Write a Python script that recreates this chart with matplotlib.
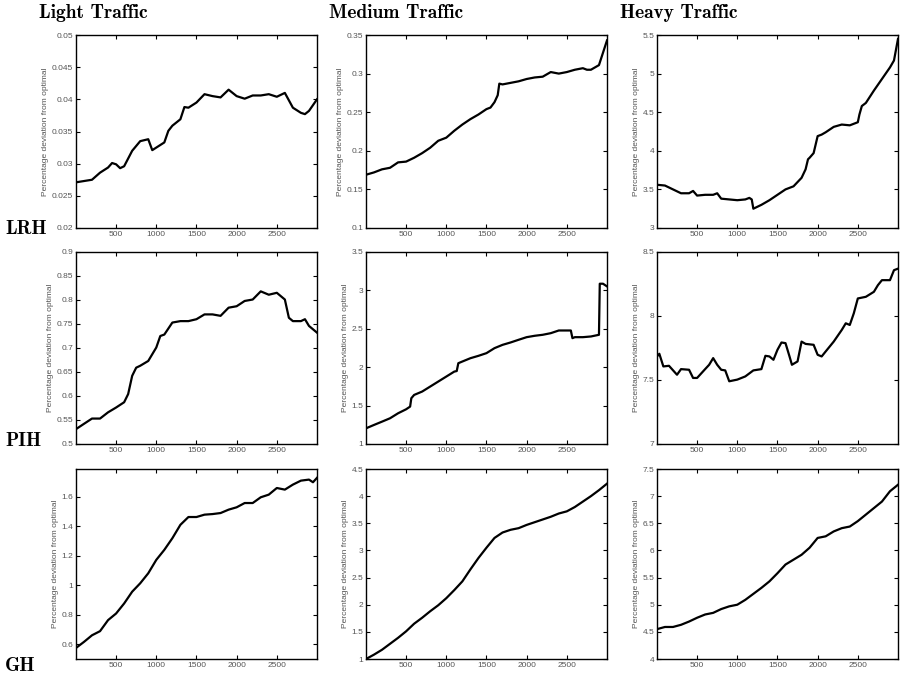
import matplotlib
matplotlib.use("Agg")
import matplotlib.pyplot as plt
from matplotlib.ticker import FormatStrFormatter

# Percentage deviation from optimal
# rows: heuristics, columns: traffic levels

row_names = ["LRH", "PIH", "GH"]
col_names = ["Light Traffic", "Medium Traffic", "Heavy Traffic"]

# --- LRH ---
lrh_light_x = [1, 100, 200, 300, 400, 450, 500, 550, 600, 700, 800, 900, 950, 1000, 1100,
               1150, 1200, 1300, 1350, 1400, 1500, 1600, 1700, 1800, 1900, 2000, 2100, 2200,
               2300, 2400, 2500, 2600, 2700, 2800, 2850, 2900, 3000]
lrh_light_y = [0.0271, 0.0273, 0.0275, 0.0286, 0.0294, 0.0301, 0.0299, 0.0293, 0.0296, 0.0320,
               0.0335, 0.0338, 0.0321, 0.0325, 0.0333, 0.0351, 0.0359, 0.0369, 0.0388, 0.0387,
               0.0395, 0.0408, 0.0405, 0.0403, 0.0415, 0.0405, 0.0401, 0.0406, 0.0406, 0.0408,
               0.0404, 0.0410, 0.0387, 0.0379, 0.0377, 0.0382, 0.0400]

lrh_medium_x = [1, 100, 200, 300, 400, 500, 600, 700, 800, 900, 1000, 1100, 1200, 1300, 1400,
                1500, 1550, 1600, 1640, 1660, 1700, 1800, 1900, 2000, 2100, 2200, 2300, 2400,
                2500, 2600, 2700, 2750, 2800, 2900, 2950, 3000]
lrh_medium_y = [0.169, 0.172, 0.176, 0.178, 0.185, 0.186, 0.191, 0.197, 0.204, 0.213, 0.217,
                0.226, 0.234, 0.241, 0.247, 0.254, 0.256, 0.263, 0.272, 0.287, 0.286, 0.288,
                0.290, 0.293, 0.295, 0.296, 0.302, 0.300, 0.302, 0.305, 0.307, 0.305, 0.305,
                0.311, 0.327, 0.343]

lrh_heavy_x = [1, 100, 200, 300, 400, 450, 500, 600, 700, 750, 800, 900, 1000, 1100, 1150,
               1180, 1200, 1300, 1400, 1500, 1600, 1700, 1800, 1850, 1880, 1900, 1950, 2000,
               2050, 2100, 2200, 2300, 2400, 2500, 2520, 2550, 2600, 2700, 2800, 2900, 2950, 3000]
lrh_heavy_y = [3.56, 3.55, 3.50, 3.45, 3.45, 3.48, 3.42, 3.43, 3.43, 3.45, 3.38, 3.37, 3.36,
               3.37, 3.39, 3.37, 3.25, 3.30, 3.36, 3.43, 3.50, 3.54, 3.65, 3.76, 3.89, 3.91,
               3.97, 4.19, 4.21, 4.24, 4.31, 4.34, 4.33, 4.37, 4.47, 4.58, 4.62, 4.78, 4.93,
               5.08, 5.17, 5.45]

# --- PIH ---
pih_light_x = [1, 100, 200, 300, 400, 500, 600, 650, 700, 750, 800, 900, 1000, 1050, 1100,
               1200, 1300, 1400, 1500, 1600, 1700, 1800, 1900, 2000, 2100, 2200, 2300, 2400,
               2500, 2600, 2650, 2700, 2800, 2850, 2900, 3000]
pih_light_y = [0.531, 0.542, 0.553, 0.553, 0.566, 0.576, 0.587, 0.604, 0.642, 0.659, 0.663,
               0.673, 0.701, 0.725, 0.728, 0.753, 0.756, 0.756, 0.760, 0.770, 0.770, 0.767,
               0.784, 0.787, 0.798, 0.801, 0.818, 0.811, 0.815, 0.801, 0.763, 0.756, 0.756,
               0.760, 0.746, 0.732]

pih_medium_x = [1, 100, 200, 300, 400, 500, 550, 565, 600, 700, 800, 900, 1000, 1100, 1130,
                1150, 1200, 1300, 1400, 1500, 1600, 1700, 1800, 1900, 2000, 2100, 2200, 2300,
                2400, 2550, 2570, 2600, 2700, 2800, 2900, 2910, 2950, 3000]
pih_medium_y = [1.204, 1.248, 1.291, 1.335, 1.40, 1.452, 1.487, 1.596, 1.639, 1.683, 1.748,
                1.813, 1.878, 1.943, 1.95, 2.052, 2.074, 2.117, 2.148, 2.183, 2.248, 2.291,
                2.322, 2.357, 2.391, 2.409, 2.422, 2.443, 2.478, 2.478, 2.378, 2.391, 2.391,
                2.40, 2.422, 3.087, 3.087, 3.052]

pih_heavy_x = [1, 30, 80, 150, 250, 300, 400, 450, 500, 600, 650, 700, 750, 800, 850, 900,
               1000, 1100, 1200, 1300, 1350, 1400, 1450, 1500, 1550, 1600, 1650, 1680, 1750,
               1800, 1850, 1950, 2000, 2050, 2100, 2200, 2300, 2350, 2400, 2450, 2500, 2600,
               2700, 2750, 2800, 2900, 2950, 3000]
pih_heavy_y = [7.684, 7.705, 7.606, 7.611, 7.541, 7.585, 7.58, 7.516, 7.516, 7.585, 7.619,
               7.671, 7.619, 7.58, 7.575, 7.49, 7.503, 7.528, 7.575, 7.585, 7.689, 7.684,
               7.658, 7.736, 7.793, 7.788, 7.684, 7.619, 7.645, 7.80, 7.782, 7.775, 7.697,
               7.684, 7.723, 7.80, 7.891, 7.943, 7.93, 8.021, 8.137, 8.15, 8.189, 8.241,
               8.28, 8.28, 8.358, 8.37]

# --- GH ---
gh_light_x = [1, 100, 200, 300, 400, 500, 600, 700, 800, 900, 1000, 1100, 1200, 1300, 1400,
              1500, 1600, 1700, 1800, 1900, 2000, 2100, 2200, 2300, 2400, 2500, 2600, 2700,
              2800, 2900, 2950, 3000]
gh_light_y = [0.575, 0.616, 0.661, 0.689, 0.764, 0.809, 0.877, 0.957, 1.014, 1.082, 1.173,
              1.241, 1.320, 1.411, 1.464, 1.464, 1.48, 1.484, 1.491, 1.514, 1.530, 1.559,
              1.559, 1.598, 1.616, 1.661, 1.65, 1.684, 1.711, 1.718, 1.70, 1.73]

gh_x = [1, 100, 200, 300, 400, 500, 600, 700, 800, 900, 1000, 1100, 1200, 1300, 1400, 1500,
        1600, 1700, 1800, 1900, 2000, 2100, 2200, 2300, 2400, 2500, 2600, 2700, 2800, 2900, 3000]
gh_medium_y = [1.0, 1.08, 1.17, 1.28, 1.39, 1.51, 1.65, 1.76, 1.88, 1.99, 2.12, 2.27, 2.43,
               2.65, 2.86, 3.05, 3.23, 3.33, 3.38, 3.41, 3.47, 3.52, 3.57, 3.62, 3.68, 3.72,
               3.80, 3.90, 4.00, 4.11, 4.23]
gh_heavy_y = [4.55, 4.59, 4.59, 4.63, 4.69, 4.76, 4.82, 4.85, 4.92, 4.97, 5.00, 5.09, 5.20,
              5.31, 5.43, 5.58, 5.74, 5.83, 5.92, 6.05, 6.23, 6.26, 6.35, 6.41, 6.44, 6.54,
              6.66, 6.78, 6.90, 7.09, 7.21]

# axis limits and tick values as printed
y_limits = [[(0.02, 0.05), (0.1, 0.35), (3, 5.5)],
            [(0.5, 0.9), (1, 3.5), (7, 8.5)],
            [(0.5, 1.79), (1, 4.5), (4, 7.5)]]
y_ticks = [[[0.02, 0.025, 0.03, 0.035, 0.04, 0.045, 0.05],
            [0.1, 0.15, 0.2, 0.25, 0.3, 0.35],
            [3, 3.5, 4, 4.5, 5, 5.5]],
           [[0.5, 0.55, 0.6, 0.65, 0.7, 0.75, 0.8, 0.85, 0.9],
            [1, 1.5, 2, 2.5, 3, 3.5],
            [7, 7.5, 8, 8.5]],
           [[0.6, 0.8, 1, 1.2, 1.4, 1.6],
            [1, 1.5, 2, 2.5, 3, 3.5, 4, 4.5],
            [4, 4.5, 5, 5.5, 6, 6.5, 7, 7.5]]]
x_ticks = [500, 1000, 1500, 2000, 2500]

series = [[(lrh_light_x, lrh_light_y), (lrh_medium_x, lrh_medium_y), (lrh_heavy_x, lrh_heavy_y)],
          [(pih_light_x, pih_light_y), (pih_medium_x, pih_medium_y), (pih_heavy_x, pih_heavy_y)],
          [(gh_light_x, gh_light_y), (gh_x, gh_medium_y), (gh_x, gh_heavy_y)]]

W, H = 900, 675
fig = plt.figure(figsize=(9, 6.75), dpi=100)

lefts = [76, 366, 657]
rows = [(35, 228), (252, 444), (469, 659)]
sans = ["Liberation Sans", "DejaVu Sans"]
serif = ["cmb10", "DejaVu Serif"]
grey = "#555555"

for i in range(3):
    top, bot = rows[i]
    for j in range(3):
        ax = fig.add_axes([lefts[j] / W, 1 - bot / H, 241 / W, (bot - top) / H])
        xs, ys = series[i][j]
        ax.plot(xs, ys, color="black", lw=1.6)
        ax.set_xlim(1, 3000)
        ax.set_ylim(*y_limits[i][j])
        ax.set_xticks(x_ticks)
        ax.set_yticks(y_ticks[i][j])
        ax.yaxis.set_major_formatter(FormatStrFormatter("%g"))
        ax.tick_params(direction="in", top=True, right=True, length=3, width=0.8,
                       labelsize=6, labelcolor=grey, pad=2)
        for lab in ax.get_xticklabels() + ax.get_yticklabels():
            lab.set_family(sans)
        for sp in ax.spines.values():
            sp.set_linewidth(1.0)
        ax.set_ylabel("Percentage deviation from optimal", fontsize=6, color=grey,
                      family=sans, labelpad=2)

# column headers
for j, name in enumerate(col_names):
    fig.text((lefts[j] - 37) / W, 1 - 13 / H, name, family=serif, fontsize=14,
             ha="left", va="center")

# row labels
row_y = [229, 441, 666]
for i, name in enumerate(row_names):
    fig.text(5 / W, 1 - row_y[i] / H, name, family=serif, fontsize=14,
             ha="left", va="center")

fig.savefig("out.png", dpi=100)
